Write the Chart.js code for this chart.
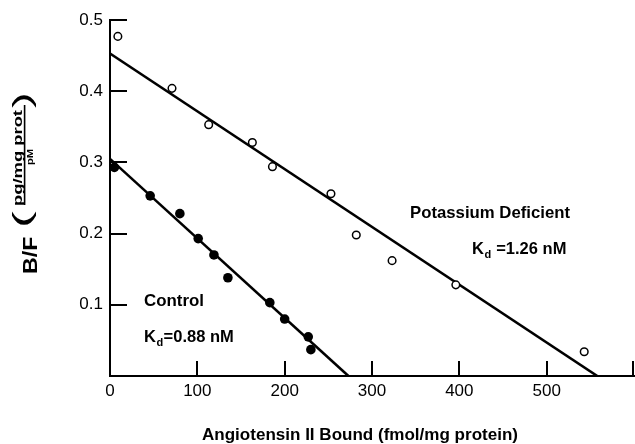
<!DOCTYPE html>
<html>
<head>
<meta charset="utf-8">
<script src="https://cdn.jsdelivr.net/npm/chart.js@4/dist/chart.umd.min.js"></script>
<style>
  html, body { margin: 0; padding: 0; background: #fff; }
</style>
</head>
<body>
<canvas id="scatchard" width="635" height="444"></canvas>
<script>
// Scatchard plot values
const deficientBound = [9, 71, 113, 163, 186, 253, 282, 323, 396, 543];
const deficientRatio = [0.477, 0.404, 0.353, 0.328, 0.294, 0.256, 0.198, 0.162, 0.128, 0.034];
const controlBound = [5, 46, 80, 101, 119, 135, 183, 200, 227, 230];
const controlRatio = [0.293, 0.253, 0.228, 0.193, 0.170, 0.138, 0.103, 0.080, 0.055, 0.037];

// regression lines: end points (bound, B/F)
const deficientFitBound = [0, 558];
const deficientFitRatio = [0.453, 0];
const controlFitBound = [0, 273];
const controlFitRatio = [0.305, 0];

const xTickValues = [0, 100, 200, 300, 400, 500, 600];
const yTickValues = [0, 0.1, 0.2, 0.3, 0.4, 0.5];

const FONT = "'Liberation Sans', Arial, Helvetica, sans-serif";

function toPoints(xs, ys) {
    return xs.map((x, i) => ({ x: x, y: ys[i] }));
}

// draw text so its ink box fills the given box (used for the rotated y title)
function fitInk(ctx, text, font, u0, u1, v0, v1) {
    ctx.font = font;
    const m = ctx.measureText(text);
    const left = -m.actualBoundingBoxLeft;
    const right = m.actualBoundingBoxRight;
    const top = -m.actualBoundingBoxAscent;
    const bottom = m.actualBoundingBoxDescent;
    const sx = (u1 - u0) / (right - left);
    const sy = (v1 - v0) / (bottom - top);
    ctx.save();
    ctx.translate(u0 - left * sx, v0 - top * sy);
    ctx.scale(sx, sy);
    ctx.textAlign = 'left';
    ctx.textBaseline = 'alphabetic';
    ctx.fillText(text, 0, 0);
    ctx.restore();
}

// draw text stretched to a width, left edge + baseline
function fitWidth(ctx, text, font, x0, x1, baseline) {
    ctx.font = font;
    const w = ctx.measureText(text).width;
    ctx.save();
    ctx.translate(x0, baseline);
    ctx.scale((x1 - x0) / w, 1);
    ctx.textAlign = 'left';
    ctx.textBaseline = 'alphabetic';
    ctx.fillText(text, 0, 0);
    ctx.restore();
}

// K with subscript d, followed by the rest
function drawKd(ctx, x, baseline, rest) {
    ctx.textAlign = 'left';
    ctx.textBaseline = 'alphabetic';
    ctx.font = 'bold 16.5px ' + FONT;
    ctx.fillText('K', x, baseline);
    let cx = x + ctx.measureText('K').width;
    ctx.font = 'bold 11px ' + FONT;
    ctx.fillText('d', cx + 0.5, baseline + 4);
    cx += ctx.measureText('d').width + 1;
    ctx.font = 'bold 16.5px ' + FONT;
    ctx.fillText(rest, cx, baseline);
}

// inward tick marks on both axes
const innerTicks = {
    id: 'innerTicks',
    beforeDatasetsDraw(chart) {
        const ctx = chart.ctx;
        const xs = chart.scales.x;
        const ys = chart.scales.y;
        const area = chart.chartArea;
        ctx.save();
        ctx.strokeStyle = '#000';
        ctx.lineWidth = 2;
        ctx.beginPath();
        xTickValues.forEach(v => {
            if (v === 0) return;
            const px = Math.min(Math.round(xs.getPixelForValue(v)), 633);
            ctx.moveTo(px, area.bottom);
            ctx.lineTo(px, area.bottom - 15);
        });
        yTickValues.forEach(v => {
            if (v === 0) return;
            const py = Math.round(ys.getPixelForValue(v));
            ctx.moveTo(area.left, py);
            ctx.lineTo(area.left + 17, py);
        });
        ctx.stroke();
        ctx.restore();
    }
};

// axis titles and curve labels
const labels = {
    id: 'labels',
    afterDraw(chart) {
        const ctx = chart.ctx;
        const xs = chart.scales.x;
        const ys = chart.scales.y;
        ctx.save();
        ctx.fillStyle = '#000';

        // x title
        fitWidth(ctx, 'Angiotensin II Bound (fmol/mg protein)', 'bold 17px ' + FONT, 202, 518, 440);

        // curve labels, anchored in data space
        fitWidth(ctx, 'Potassium Deficient', 'bold 16.5px ' + FONT,
            xs.getPixelForValue(343.5), xs.getPixelForValue(526.7), ys.getPixelForValue(0.2223));
        drawKd(ctx, xs.getPixelForValue(414.5), ys.getPixelForValue(0.1717), ' =1.26 nM');
        fitWidth(ctx, 'Control', 'bold 16.5px ' + FONT,
            xs.getPixelForValue(38.9), xs.getPixelForValue(107.6), ys.getPixelForValue(0.0985));
        drawKd(ctx, xs.getPixelForValue(38.9), ys.getPixelForValue(0.0478), '=0.88 nM');

        // rotated y title: B/F (pg/mg prot / pM)
        ctx.rotate(-Math.PI / 2);
        // in this frame a screen point (sx, sy) is (u = -sy, v = sx)
        fitInk(ctx, 'B/F', 'bold 22px ' + FONT, -273, -237, 22, 37);
        fitInk(ctx, '(', '27px ' + FONT, -226, -211, 12, 37);
        fitInk(ctx, 'pg/mg prot', 'bold 15px ' + FONT, -206, -110, 12.5, 24);
        fitInk(ctx, 'pM', 'bold 11px ' + FONT, -165, -149, 27, 35);
        fitInk(ctx, ')', '27px ' + FONT, -108, -94, 12, 37);
        ctx.fillRect(-205, 23.8, 100, 1.6);
        ctx.restore();
    }
};

Chart.defaults.font.family = FONT;
Chart.defaults.color = '#000';

new Chart(document.getElementById('scatchard'), {
    type: 'scatter',
    data: {
        datasets: [
            {
                label: 'Potassium Deficient',
                data: toPoints(deficientBound, deficientRatio),
                pointStyle: 'circle',
                pointRadius: 3.8,
                pointBorderWidth: 1.5,
                pointBorderColor: '#000',
                pointBackgroundColor: '#fff',
                order: 0
            },
            {
                label: 'Control',
                data: toPoints(controlBound, controlRatio),
                pointStyle: 'circle',
                pointRadius: 4.8,
                pointBorderWidth: 0,
                pointBackgroundColor: '#000',
                order: 0
            },
            {
                label: 'Potassium Deficient fit',
                data: toPoints(deficientFitBound, deficientFitRatio),
                showLine: true,
                pointRadius: 0,
                borderColor: '#000',
                borderWidth: 2.6,
                order: 1
            },
            {
                label: 'Control fit',
                data: toPoints(controlFitBound, controlFitRatio),
                showLine: true,
                pointRadius: 0,
                borderColor: '#000',
                borderWidth: 2.6,
                order: 1
            }
        ]
    },
    options: {
        responsive: false,
        devicePixelRatio: 1,
        animation: false,
        layout: {
            autoPadding: false,
            padding: { top: 20, right: 1, left: 0, bottom: 0 }
        },
        plugins: {
            legend: { display: false },
            tooltip: { enabled: false }
        },
        scales: {
            x: {
                type: 'linear',
                min: 0,
                max: 600,
                afterBuildTicks: scale => { scale.ticks = xTickValues.map(v => ({ value: v })); },
                afterFit: scale => {
                    scale.height = 68;
                    scale.paddingLeft = 0;
                    scale.paddingRight = 0;
                },
                grid: { display: false, drawTicks: false },
                border: { display: true, color: '#000', width: 2 },
                ticks: {
                    padding: 5,
                    maxRotation: 0,
                    font: { size: 17 },
                    callback: v => (v === 600 ? '' : String(v))
                }
            },
            y: {
                type: 'linear',
                min: 0,
                max: 0.5,
                afterBuildTicks: scale => { scale.ticks = yTickValues.map(v => ({ value: v })); },
                afterFit: scale => {
                    scale.width = 110;
                    scale.paddingTop = 0;
                    scale.paddingBottom = 0;
                },
                grid: { display: false, drawTicks: false },
                border: { display: true, color: '#000', width: 2 },
                ticks: {
                    padding: 7,
                    font: { size: 17 },
                    callback: v => (v === 0 ? '' : v.toFixed(1))
                }
            }
        }
    },
    plugins: [innerTicks, labels]
});
</script>
</body>
</html>
